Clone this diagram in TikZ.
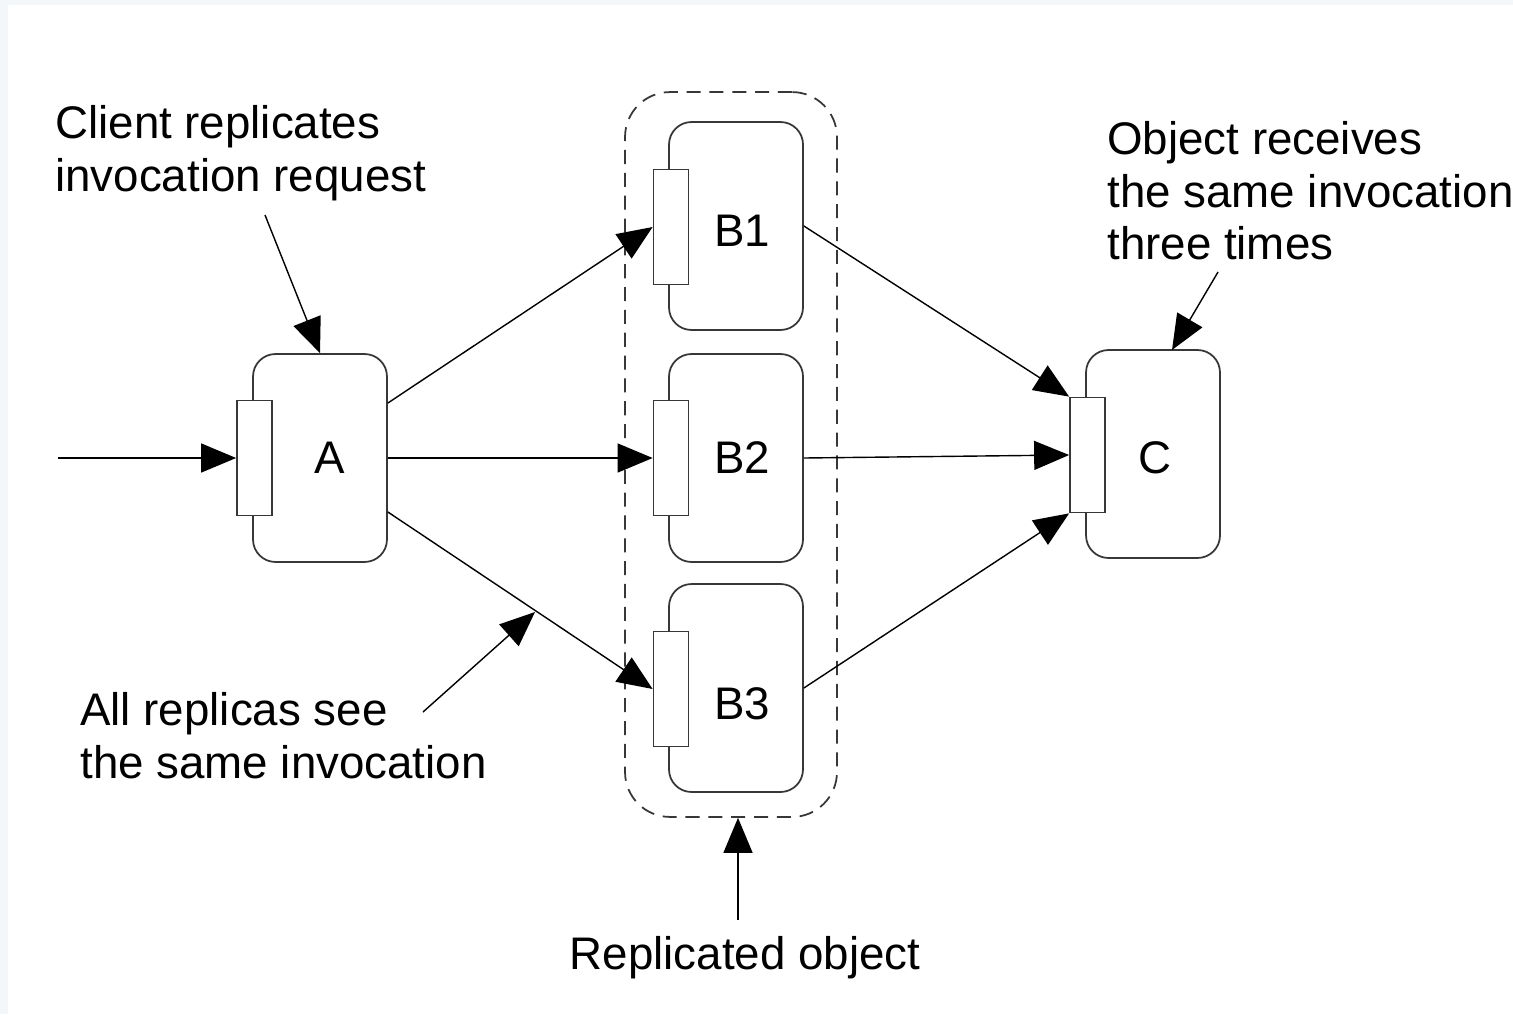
\documentclass[tikz,border=0pt]{standalone}
\usepackage{fontspec}
\setmainfont{Liberation Sans}
\usetikzlibrary{arrows.meta}
\usetikzlibrary{positioning}
\definecolor{pagebg}{RGB}{243,247,250}
\definecolor{boxline}{RGB}{55,55,55}

\begin{document}
\begin{tikzpicture}[x=0.02cm,y=-0.02cm,
  obj/.style={draw=boxline,line width=1pt,rounded corners=0.45cm,minimum width=2.68cm,minimum height=4.16cm,inner sep=0pt},
  port/.style={draw=boxline,fill=white,line width=1pt,minimum width=0.7cm,minimum height=2.3cm,inner sep=0pt},
  group/.style={draw=boxline,line width=1pt,dash pattern=on 8pt off 5pt,rounded corners=0.9cm,minimum width=4.24cm,minimum height=14.5cm,inner sep=0pt},
  note/.style={align=left,inner sep=0pt},
  every node/.append style={font=\fontsize{26}{30}\selectfont},
  >={Triangle[length=0.7cm,width=0.58cm]}]
\fill[pagebg] (0,0) rectangle (1513,1014);
\fill[white] (8,5) rectangle (1513,1014);
\useasboundingbox (0,0) rectangle (1513,1014);

% replicated group
\node[group](grp) at (731,454.5){};

% objects with their ports
\node[obj](A) at (320,458){};
\node[port](Ap) at (254.5,458){};
\node(Alab) at (330,458){A};
\foreach \n/\y/\py/\ly in {1/226/227/231,2/458/458/458,3/688/689/704}{
  \node[obj](B\n) at (736,\y){};
  \node[port](B\n p) at (671,\py){};
  \node(B\n lab) at (742,\ly){B\n};
}
\node[obj](C) at (1153,454){};
\node[port](Cp) at (1087.5,455){};
\node(Clab) at (1155,458){C};

% invocations
\coordinate (in) at (58,458);
\draw[line width=0.8pt,->] (in) -- (Ap.west);
\draw[line width=0.8pt,->] ([yshift=1.1cm]A.east) -- (B1p.west);
\draw[line width=0.8pt,->] (A.east) -- (B2p.west);
\draw[line width=0.8pt,->] ([yshift=-1.08cm]A.east) -- (B3p.west);
\draw[line width=0.8pt,->] (B1.east) -- (Cp.north west);
\draw[line width=0.8pt,->] (B2.east) -- (Cp.west);
\draw[line width=0.8pt,->] (B3.east) -- (Cp.south west);

% annotations
\node[note,anchor=north west](cl) at (55,105){Client replicates\\invocation request};
\node[note,anchor=north west](all) at (80,692){All replicas see\\the same invocation};
\node[note,anchor=north](ro) at (745,936){Replicated object};
\node[note,anchor=north west](rcv) at (1107,121){Object receives\\the same invocation\\three times};

\coordinate (cl-tail) at (265,215);
\coordinate (all-tail) at (423,712);
\coordinate (all-tip) at (535,612);
\coordinate (ro-tail) at (738,920);
\coordinate (rcv-tail) at (1218,272);
\coordinate (rcv-tip) at (1172,350);
\draw[line width=0.8pt,->] (cl-tail) -- (A.north);
\draw[line width=0.8pt,->] (all-tail) -- (all-tip);
\draw[line width=0.8pt,->] (ro-tail) -- (ro-tail |- grp.south);
\draw[line width=0.8pt,->] (rcv-tail) -- (rcv-tip);
\end{tikzpicture}
\end{document}
